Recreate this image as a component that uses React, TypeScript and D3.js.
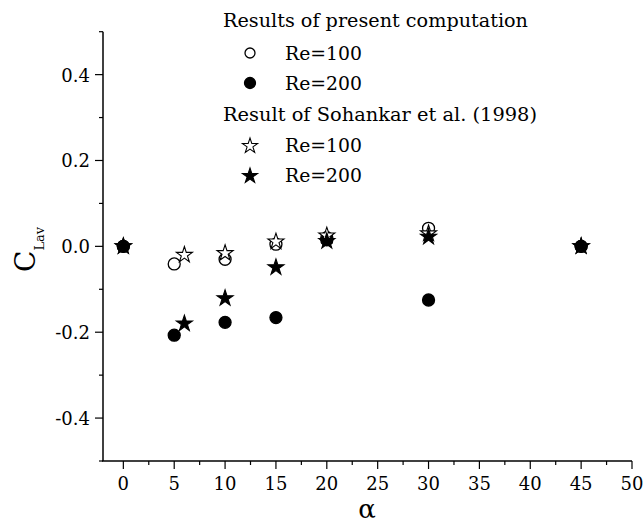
import React from "react";
import * as d3 from "d3";

const W = 643;
const H = 526;

const alphaPresent = [0, 5, 10, 15, 20, 30, 45];
const presentRe100 = [0, -0.041, -0.03, 0.005, 0.02, 0.042, 0];
const presentRe200 = [0, -0.207, -0.177, -0.166, 0.015, -0.125, 0];

const alphaSohankar = [0, 6, 10, 15, 20, 30, 45];
const sohankarRe100 = [0, -0.02, -0.016, 0.011, 0.025, 0.03, 0];
const sohankarRe200 = [0, -0.18, -0.121, -0.049, 0.012, 0.022, 0];

const xTicks = [0, 5, 10, 15, 20, 25, 30, 35, 40, 45, 50];
const xMinor = [2.5, 7.5, 12.5, 17.5, 22.5, 27.5, 32.5, 37.5, 42.5, 47.5];
const yTicks = [-0.4, -0.2, 0.0, 0.2, 0.4];
const yMinor = [-0.5, -0.3, -0.1, 0.1, 0.3, 0.5];

const legendTitles = ["Results of present computation", "Result of Sohankar et al. (1998)"];
const legendLabels = ["Re=100", "Re=200"];

const FONT = "'DejaVu Serif', 'Liberation Serif', serif";

export default function App() {
  const x = d3.scaleLinear().domain([-2, 50]).range([103, 632]);
  const y = d3.scaleLinear().domain([-0.5, 0.5]).range([461, 31.7]);
  const star = d3.symbol().type(d3.symbolStar).size(80)();
  const fmt = d3.format(".1f");
  const yFmt = (v: number) => (Math.abs(v) < 1e-9 ? "0.0" : fmt(v).replace("−", "-"));

  const circ = (cx: number, cy: number, filled: boolean, key: string, r = 6) => (
    <circle key={key} cx={cx} cy={cy} r={r} fill={filled ? "#000" : "#fff"} stroke="#000" strokeWidth={1.3} />
  );
  const st = (cx: number, cy: number, filled: boolean, key: string, scale = 1) => (
    <path key={key} d={star} transform={`translate(${cx},${cy}) scale(${scale})`} fill={filled ? "#000" : "#fff"} stroke="#000" strokeWidth={1.1} />
  );

  const y0 = y.range()[0];
  const x0 = x.range()[0];
  const tstyle = { fontFamily: FONT };

  return (
    <svg width={W} height={H} style={{ position: "absolute", left: 0, top: 0, background: "#fff", fontFamily: FONT }}>
      <rect width={W} height={H} fill="#fff" />
      {/* axes */}
      <line x1={x0} x2={x0} y1={y.range()[1]} y2={y0} stroke="#000" strokeWidth={1.5} />
      <line x1={x0 - 1} x2={x.range()[1]} y1={y0} y2={y0} stroke="#000" strokeWidth={1.5} />
      {yTicks.map((t) => (
        <g key={"yt" + t}>
          <line x1={x0 - 8} x2={x0} y1={y(t)} y2={y(t)} stroke="#000" strokeWidth={1.2} />
          <text x={90} y={y(t) + 7} textAnchor="end" fontSize={18} style={tstyle}>{yFmt(t)}</text>
        </g>
      ))}
      {yMinor.map((t) => (
        <line key={"ym" + t} x1={x0 - 4} x2={x0} y1={y(t)} y2={y(t)} stroke="#000" strokeWidth={1.2} />
      ))}
      {xTicks.map((t) => (
        <g key={"xt" + t}>
          <line x1={x(t)} x2={x(t)} y1={y0} y2={y0 + 8} stroke="#000" strokeWidth={1.2} />
          <text x={x(t)} y={y0 + 29} textAnchor="middle" fontSize={18} style={tstyle}>{t}</text>
        </g>
      ))}
      {xMinor.map((t) => (
        <line key={"xm" + t} x1={x(t)} x2={x(t)} y1={y0} y2={y0 + 4} stroke="#000" strokeWidth={1.2} />
      ))}
      {/* axis titles */}
      <text x={367} y={518} textAnchor="middle" fontSize={26} style={tstyle}>α</text>
      <g transform="translate(35,272) rotate(-90)">
        <text x={0} y={0} fontSize={28} style={tstyle}>
          C<tspan fontSize={13} dy={9}>Lav</tspan>
        </text>
      </g>
      {/* data */}
      {alphaPresent.map((a, i) => circ(x(a), y(presentRe100[i]), false, "p1" + i))}
      {alphaPresent.map((a, i) => circ(x(a), y(presentRe200[i]), true, "p2" + i))}
      {alphaSohankar.map((a, i) => st(x(a), y(sohankarRe100[i]), false, "s1" + i))}
      {alphaSohankar.map((a, i) => st(x(a), y(sohankarRe200[i]), true, "s2" + i))}
      {/* legend */}
      <text x={223} y={27} fontSize={18} textLength={305} lengthAdjust="spacingAndGlyphs" style={tstyle}>{legendTitles[0]}</text>
      {circ(250, 53, false, "l1", 5)}
      <text x={285} y={60} fontSize={18} textLength={77} lengthAdjust="spacingAndGlyphs" style={tstyle}>{legendLabels[0]}</text>
      {circ(250, 83, true, "l2", 5.5)}
      <text x={285} y={90} fontSize={18} textLength={77} lengthAdjust="spacingAndGlyphs" style={tstyle}>{legendLabels[1]}</text>
      <text x={223} y={121} fontSize={18} textLength={314} lengthAdjust="spacingAndGlyphs" style={tstyle}>{legendTitles[1]}</text>
      {st(250, 146, false, "l3", 0.95)}
      <text x={285} y={152} fontSize={18} textLength={77} lengthAdjust="spacingAndGlyphs" style={tstyle}>{legendLabels[0]}</text>
      {st(250, 176, true, "l4", 0.95)}
      <text x={285} y={182} fontSize={18} textLength={77} lengthAdjust="spacingAndGlyphs" style={tstyle}>{legendLabels[1]}</text>
    </svg>
  );
}
